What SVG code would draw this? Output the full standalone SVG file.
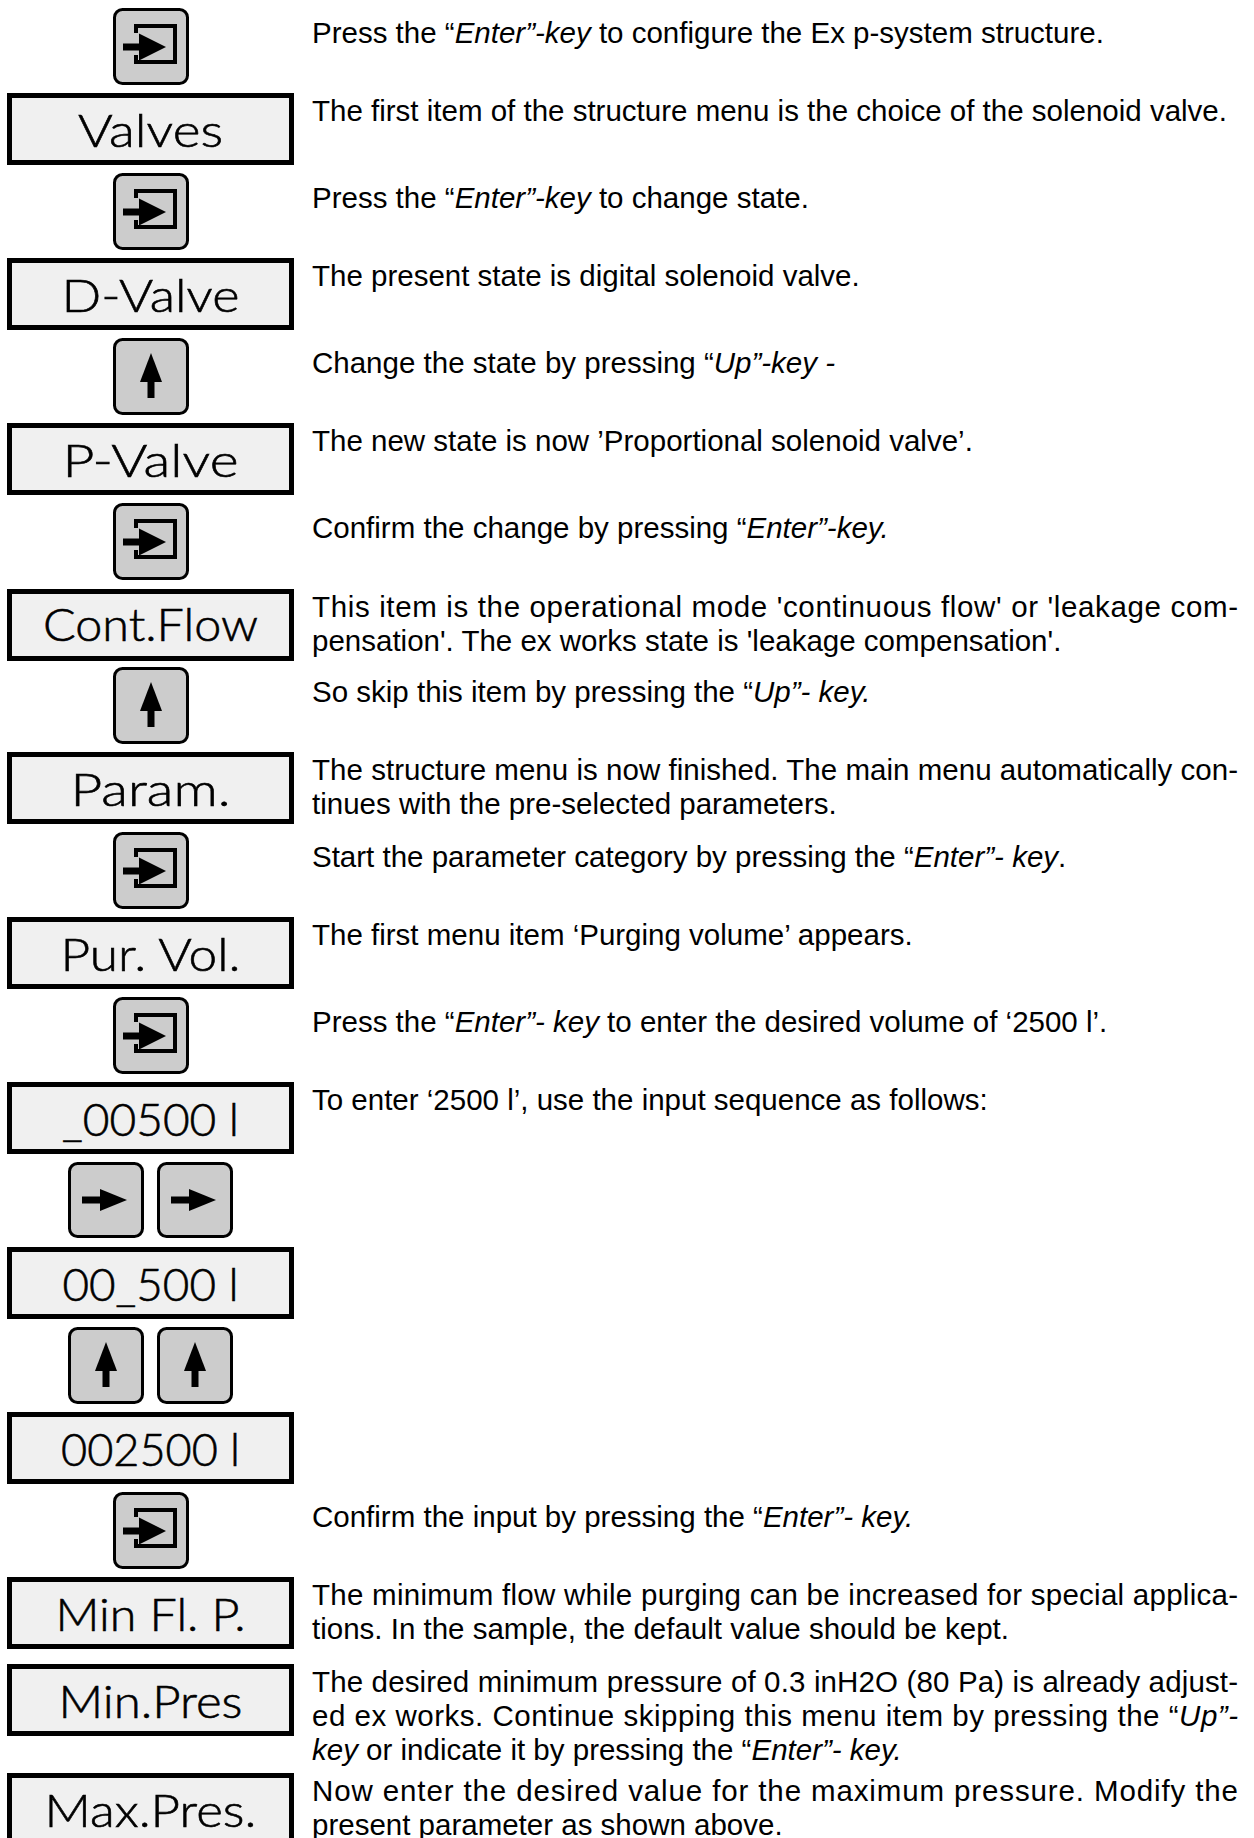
<svg xmlns="http://www.w3.org/2000/svg" xmlns:xlink="http://www.w3.org/1999/xlink" width="1254" height="1838" viewBox="0 0 1254 1838">
<style>
.key{fill:#cccccc;stroke:#000;stroke-width:3}
.box{fill:#f0f0f0;stroke:#000;stroke-width:5}
.ico{fill:#000}
.brk{fill:none;stroke:#000;stroke-width:4}
.disp{font-family:"Lato","Open Sans","Noto Sans",sans-serif;font-weight:300;font-size:46px;text-anchor:middle;fill:#000;stroke:#000;stroke-width:0.6}
.t{font-family:"Liberation Sans",Arial,sans-serif;font-size:29.5px;fill:#000}
.i{font-style:italic}
</style>
<defs>
<g id="enterKey">
<rect class="key" x="1.5" y="1.5" width="73" height="74" rx="8"/>
<path class="brk" d="M23,25 V18 H62 V54 H23 V47"/>
<rect class="ico" x="10" y="35.5" width="17" height="7"/>
<polygon class="ico" points="26,25.5 53,39 26,52.5"/>
</g>
<g id="upKey">
<rect class="key" x="1.5" y="1.5" width="73" height="74" rx="8"/>
<polygon class="ico" points="38,15 49,44 27,44"/>
<rect class="ico" x="34.5" y="43" width="7" height="17"/>
</g>
<g id="rightKey">
<rect class="key" x="1.5" y="1.5" width="73" height="73" rx="8"/>
<rect class="ico" x="14" y="34.5" width="19" height="7"/>
<polygon class="ico" points="32,27 59,38 32,49"/>
</g>
</defs>
<rect width="1254" height="1838" fill="#fff"/>
<g id="connectors"/>

<g id="step1"><use xlink:href="#enterKey" x="113" y="8"/>
<text class="t" x="312" y="43">Press the “<tspan class="i">Enter”-key</tspan> to configure the Ex p-system structure.</text></g>

<g id="step2"><rect class="box" x="9.5" y="95.5" width="282" height="67"/><text class="disp" x="150.5" y="147" textLength="145" lengthAdjust="spacingAndGlyphs">Valves</text>
<text class="t" x="312" y="121">The first item of the structure menu is the choice of the solenoid valve.</text></g>

<g id="step3"><use xlink:href="#enterKey" x="113" y="173"/>
<text class="t" x="312" y="208">Press the “<tspan class="i">Enter”-key</tspan> to change state.</text></g>

<g id="step4"><rect class="box" x="9.5" y="260.5" width="282" height="67"/><text class="disp" x="150.5" y="312" textLength="178" lengthAdjust="spacingAndGlyphs">D-Valve</text>
<text class="t" x="312" y="286">The present state is digital solenoid valve.</text></g>

<g id="step5"><use xlink:href="#upKey" x="113" y="338"/>
<text class="t" x="312" y="373">Change the state by pressing “<tspan class="i">Up”-key -</tspan></text></g>

<g id="step6"><rect class="box" x="9.5" y="425.5" width="282" height="67"/><text class="disp" x="150.5" y="477" textLength="176" lengthAdjust="spacingAndGlyphs">P-Valve</text>
<text class="t" x="312" y="451">The new state is now ’Proportional solenoid valve’.</text></g>

<g id="step7"><use xlink:href="#enterKey" x="113" y="503"/>
<text class="t" x="312" y="538">Confirm the change by pressing “<tspan class="i">Enter”-key.</tspan></text></g>

<g id="step8"><rect class="box" x="9.5" y="591.5" width="282" height="67"/><text class="disp" x="150.5" y="641" textLength="215" lengthAdjust="spacingAndGlyphs">Cont.Flow</text>
<text class="t" x="312" y="617" textLength="926" lengthAdjust="spacing">This item is the operational mode 'continuous flow' or 'leakage com-</text>
<text class="t" x="312" y="651">pensation'. The ex works state is 'leakage compensation'.</text></g>

<g id="step9"><use xlink:href="#upKey" x="113" y="667"/>
<text class="t" x="312" y="702">So skip this item by pressing the “<tspan class="i">Up”- key.</tspan></text></g>

<g id="step10"><rect class="box" x="9.5" y="754.5" width="282" height="67"/><text class="disp" x="150.5" y="806" textLength="160" lengthAdjust="spacingAndGlyphs">Param.</text>
<text class="t" x="312" y="780" textLength="926" lengthAdjust="spacing">The structure menu is now finished. The main menu automatically con-</text>
<text class="t" x="312" y="814">tinues with the pre-selected parameters.</text></g>

<g id="step11"><use xlink:href="#enterKey" x="113" y="832"/>
<text class="t" x="312" y="867">Start the parameter category by pressing the “<tspan class="i">Enter”- key</tspan>.</text></g>

<g id="step12"><rect class="box" x="9.5" y="919.5" width="282" height="67"/><text class="disp" x="150.5" y="971" textLength="180" lengthAdjust="spacingAndGlyphs">Pur. Vol.</text>
<text class="t" x="312" y="945">The first menu item ‘Purging volume’ appears.</text></g>

<g id="step13"><use xlink:href="#enterKey" x="113" y="997"/>
<text class="t" x="312" y="1032">Press the “<tspan class="i">Enter”- key</tspan> to enter the desired volume of ‘2500 l’.</text></g>

<g id="step14"><rect class="box" x="9.5" y="1084.5" width="282" height="67"/><text class="disp" x="150.5" y="1136" textLength="177" lengthAdjust="spacingAndGlyphs">_00500 l</text>
<text class="t" x="312" y="1110">To enter ‘2500 l’, use the input sequence as follows:</text></g>

<g id="step15"><use xlink:href="#rightKey" x="68" y="1162"/><use xlink:href="#rightKey" x="157" y="1162"/></g>

<g id="step16"><rect class="box" x="9.5" y="1249.5" width="282" height="67"/><text class="disp" x="150.5" y="1301" textLength="176" lengthAdjust="spacingAndGlyphs">00_500 l</text></g>

<g id="step17"><use xlink:href="#upKey" x="68" y="1327"/><use xlink:href="#upKey" x="157" y="1327"/></g>

<g id="step18"><rect class="box" x="9.5" y="1414.5" width="282" height="67"/><text class="disp" x="150.5" y="1466" textLength="179" lengthAdjust="spacingAndGlyphs">002500 l</text></g>

<g id="step19"><use xlink:href="#enterKey" x="113" y="1492"/>
<text class="t" x="312" y="1527">Confirm the input by pressing the “<tspan class="i">Enter”- key.</tspan></text></g>

<g id="step20"><rect class="box" x="9.5" y="1579.5" width="282" height="67"/><text class="disp" x="150.5" y="1631" textLength="190" lengthAdjust="spacingAndGlyphs">Min Fl. P.</text>
<text class="t" x="312" y="1605" textLength="926" lengthAdjust="spacing">The minimum flow while purging can be increased for special applica-</text>
<text class="t" x="312" y="1639">tions. In the sample, the default value should be kept.</text></g>

<g id="step21"><rect class="box" x="9.5" y="1666.5" width="282" height="67"/><text class="disp" x="150.5" y="1718" textLength="184" lengthAdjust="spacingAndGlyphs">Min.Pres</text>
<text class="t" x="312" y="1692" textLength="926" lengthAdjust="spacing">The desired minimum pressure of 0.3 inH2O (80 Pa) is already adjust-</text>
<text class="t" x="312" y="1726" textLength="926" lengthAdjust="spacing">ed ex works. Continue skipping this menu item by pressing the “<tspan class="i">Up”-</tspan></text>
<text class="t" x="312" y="1760"><tspan class="i">key</tspan> or indicate it by pressing the “<tspan class="i">Enter”- key.</tspan></text></g>

<g id="step22"><rect class="box" x="9.5" y="1775.5" width="282" height="67"/><text class="disp" x="150.5" y="1827" textLength="212" lengthAdjust="spacingAndGlyphs">Max.Pres.</text>
<text class="t" x="312" y="1801" textLength="926" lengthAdjust="spacing">Now enter the desired value for the maximum pressure. Modify the</text>
<text class="t" x="312" y="1835">present parameter as shown above.</text></g>
</svg>
